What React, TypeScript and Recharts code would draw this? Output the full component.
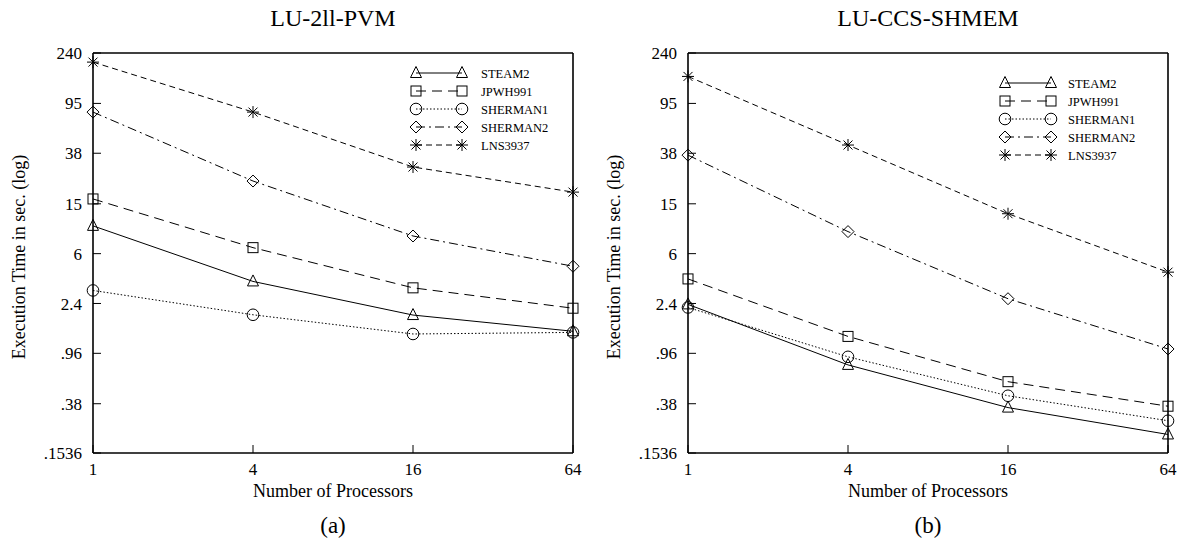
import React from "react";
import { LineChart, Line, XAxis, YAxis } from "recharts";

// ---------- data ----------
const processors = [1, 4, 16, 64];
const xTicks = [1, 4, 16, 64];
const yTicks = [0.1536, 0.38, 0.96, 2.4, 6, 15, 38, 95, 240];
const yTickLabels = [".1536", ".38", ".96", "2.4", "6", "15", "38", "95", "240"];

const seriesNames = ["STEAM2", "JPWH991", "SHERMAN1", "SHERMAN2", "LNS3937"];
const seriesShapes = ["triangle", "square", "circle", "diamond", "star"];
const seriesDashes = ["", "10 6", "1.5 2", "9 4 2 4", "6 4"];

// LU-2ll-PVM
const pvmSteam2 = [10, 3.6, 1.94, 1.44];
const pvmJpwh991 = [16.4, 6.7, 3.2, 2.2];
const pvmSherman1 = [3.05, 1.95, 1.37, 1.41];
const pvmSherman2 = [81, 22.8, 8.3, 4.76];
const pvmLns3937 = [203, 81, 29.5, 18.6];

// LU-CCS-SHMEM
const shmSteam2 = [2.36, 0.776, 0.354, 0.216];
const shmJpwh991 = [3.77, 1.31, 0.57, 0.363];
const shmSherman1 = [2.23, 0.9, 0.44, 0.278];
const shmSherman2 = [36.7, 9.0, 2.62, 1.04];
const shmLns3937 = [156, 44.2, 12.5, 4.27];

const pvmSeries = [pvmSteam2, pvmJpwh991, pvmSherman1, pvmSherman2, pvmLns3937];
const shmSeries = [shmSteam2, shmJpwh991, shmSherman1, shmSherman2, shmLns3937];

function buildRows(series: number[][]) {
  return processors.map((p, i) => {
    const row: Record<string, number> = { p };
    seriesNames.forEach((n, k) => {
      row[n] = series[k][i];
    });
    return row;
  });
}

const pvmRows = buildRows(pvmSeries);
const shmRows = buildRows(shmSeries);

const FONT = "'Liberation Serif', 'Times New Roman', serif";

function Marker({ shape, cx, cy }: { shape: string; cx: number; cy: number }) {
  const common = { fill: "none", stroke: "#000", strokeWidth: 1 };
  switch (shape) {
    case "triangle":
      return (
        <polygon
          {...common}
          points={`${cx},${cy - 6.5} ${cx - 5.5},${cy + 4.5} ${cx + 5.5},${cy + 4.5}`}
        />
      );
    case "square":
      return <rect {...common} x={cx - 5} y={cy - 5} width={10} height={10} />;
    case "circle":
      return <circle {...common} cx={cx} cy={cy} r={5.8} />;
    case "diamond":
      return (
        <polygon
          {...common}
          points={`${cx},${cy - 6} ${cx + 6},${cy} ${cx},${cy + 6} ${cx - 6},${cy}`}
        />
      );
    default:
      return (
        <g {...common}>
          <line x1={cx - 6} y1={cy} x2={cx + 6} y2={cy} />
          <line x1={cx} y1={cy - 6} x2={cx} y2={cy + 6} />
          <line x1={cx - 4.5} y1={cy - 4.5} x2={cx + 4.5} y2={cy + 4.5} />
          <line x1={cx - 4.5} y1={cy + 4.5} x2={cx + 4.5} y2={cy - 4.5} />
        </g>
      );
  }
}

const axisLine = { stroke: "#000", strokeWidth: 1.6 };
const tickLine = { stroke: "#000", strokeWidth: 1 };
const tickStyle = { fill: "#000", fontSize: 17, fontFamily: FONT };

function yFmt(v: number) {
  const i = yTicks.indexOf(v);
  return i >= 0 ? yTickLabels[i] : String(v);
}

function Chart({
  rows,
  margin,
}: {
  rows: Record<string, number>[];
  margin: { top: number; right: number; bottom: number; left: number };
}) {
  return (
    <LineChart width={590} height={554} data={rows} margin={margin}>
      <XAxis
        xAxisId="b"
        dataKey="p"
        type="number"
        scale="log"
        domain={[1, 64]}
        ticks={xTicks}
        interval={0}
        height={30}
        tickSize={-8}
        tickMargin={18}
        axisLine={axisLine}
        tickLine={tickLine}
        tick={tickStyle}
      />
      <XAxis
        xAxisId="t"
        orientation="top"
        dataKey="p"
        type="number"
        scale="log"
        domain={[1, 64]}
        ticks={xTicks}
        interval={0}
        height={1}
        tickSize={-8}
        axisLine={axisLine}
        tickLine={tickLine}
        tick={false}
      />
      <YAxis
        yAxisId="l"
        type="number"
        scale="log"
        domain={[0.1536, 240]}
        ticks={yTicks}
        interval={0}
        width={60}
        tickSize={-8}
        tickMargin={19}
        tickFormatter={yFmt}
        axisLine={axisLine}
        tickLine={tickLine}
        tick={tickStyle}
      />
      <YAxis
        yAxisId="r"
        orientation="right"
        type="number"
        scale="log"
        domain={[0.1536, 240]}
        ticks={yTicks}
        interval={0}
        width={1}
        tickSize={-8}
        axisLine={axisLine}
        tickLine={tickLine}
        tick={false}
      />
      {seriesNames.map((name, k) => (
        <Line
          key={name}
          xAxisId="b"
          yAxisId="l"
          dataKey={name}
          type="linear"
          stroke="#000"
          strokeWidth={1}
          strokeDasharray={seriesDashes[k] || undefined}
          isAnimationActive={false}
          dot={(p: any) => (
            <Marker key={`${name}-${p.index}`} shape={seriesShapes[k]} cx={p.cx} cy={p.cy} />
          )}
          activeDot={false}
        />
      ))}
    </LineChart>
  );
}

function LegendBlock({ x1, x2, tx, y0, dy }: { x1: number; x2: number; tx: number; y0: number; dy: number }) {
  return (
    <g>
      {seriesNames.map((name, k) => {
        const y = y0 + k * dy;
        return (
          <g key={name}>
            <line
              x1={x1}
              y1={y}
              x2={x2}
              y2={y}
              stroke="#000"
              strokeWidth={1}
              strokeDasharray={seriesDashes[k] || undefined}
            />
            <Marker shape={seriesShapes[k]} cx={x1} cy={y} />
            <Marker shape={seriesShapes[k]} cx={x2} cy={y} />
            <text x={tx} y={y + 4.5} fontSize={12.5} fontFamily={FONT} fill="#000">
              {name}
            </text>
          </g>
        );
      })}
    </g>
  );
}

export default function App() {
  return (
    <div
      style={{
        position: "absolute",
        left: 0,
        top: 0,
        width: 1180,
        height: 554,
        background: "#fff",
        overflow: "hidden",
      }}
    >
      <div style={{ position: "absolute", left: 0, top: 0 }}>
        <Chart rows={pvmRows} margin={{ top: 52, right: 16, bottom: 71, left: 33 }} />
      </div>
      <div style={{ position: "absolute", left: 590, top: 0 }}>
        <Chart rows={shmRows} margin={{ top: 52, right: 11, bottom: 71, left: 38 }} />
      </div>
      <svg
        width={1180}
        height={554}
        style={{ position: "absolute", left: 0, top: 0, pointerEvents: "none" }}
      >
        <g fontFamily={FONT} fill="#000">
          <text x={333} y={26} fontSize={24} textAnchor="middle">LU-2ll-PVM</text>
          <text x={928} y={26} fontSize={24} textAnchor="middle">LU-CCS-SHMEM</text>
          <text x={333} y={497} fontSize={18} textAnchor="middle">Number of Processors</text>
          <text x={928} y={497} fontSize={18} textAnchor="middle">Number of Processors</text>
          <text x={0} y={0} fontSize={18} textAnchor="middle" transform="translate(25,257) rotate(-90)">
            Execution Time in sec. (log)
          </text>
          <text x={0} y={0} fontSize={18} textAnchor="middle" transform="translate(620,257) rotate(-90)">
            Execution Time in sec. (log)
          </text>
          <text x={333} y={533} fontSize={23} textAnchor="middle">(a)</text>
          <text x={928} y={533} fontSize={23} textAnchor="middle">(b)</text>
        </g>
        <LegendBlock x1={416} x2={462} tx={481} y0={73} dy={18} />
        <LegendBlock x1={1005} x2={1051} tx={1068} y0={83} dy={18} />
      </svg>
    </div>
  );
}
